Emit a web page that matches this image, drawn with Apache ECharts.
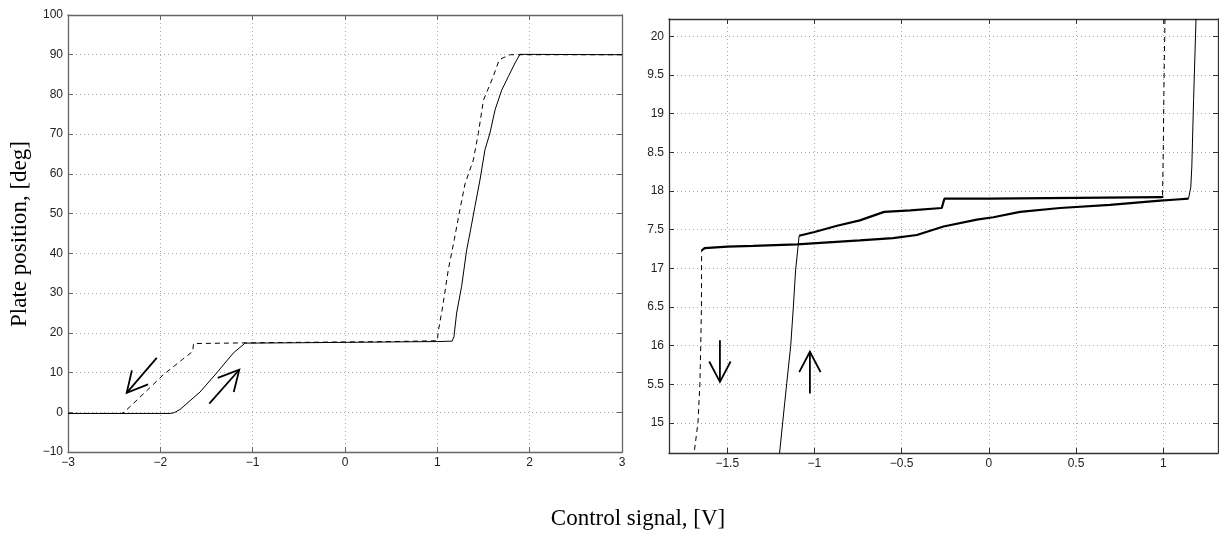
<!DOCTYPE html>
<html>
<head>
<meta charset="utf-8">
<title>Plate position vs control signal</title>
<script src="https://cdn.jsdelivr.net/npm/echarts@6/dist/echarts.min.js"></script>
<style>
html,body{margin:0;padding:0;background:#fff;}
#main{width:1219px;height:535px;}
</style>
</head>
<body>
<div id="main"></div>
<script>
// ---- left panel: full range ----
var leftXTicks = [-3, -2, -1, 0, 1, 2, 3];
var leftYTicks = [-10, 0, 10, 20, 30, 40, 50, 60, 70, 80, 90, 100];
// solid: signal going up
var leftUp = [[-3, -0.3], [-1.895, -0.3], [-1.85, -0.1], [-1.787, 0.7], [-1.57, 5.1], [-1.39, 9.9], [-1.21, 14.9],
  [-1.083, 17.4], [-0.5, 17.5], [0, 17.6], [0.5, 17.7], [1.0, 17.8], [1.16, 17.9], [1.18, 19], [1.209, 25],
  [1.263, 31.7], [1.318, 40.9], [1.36, 45.9], [1.407, 51.8], [1.462, 58.5], [1.516, 66.1], [1.57, 70.3],
  [1.625, 76.1], [1.697, 81.1], [1.769, 84.5], [1.841, 87.9], [1.895, 90.1], [3, 90]];
// dashed: signal going down
var leftDown = [[3, 90], [1.79, 90], [1.72, 89.3], [1.67, 88.7], [1.6, 84.2], [1.545, 81.1], [1.5, 78.6],
  [1.444, 70.2], [1.39, 63.5], [1.3, 57.5], [1.237, 50.1], [1.183, 43.4], [1.119, 35.9], [1.058, 26.6],
  [1.01, 20.4], [1.0, 18.0], [0.5, 17.8], [0, 17.7], [-0.5, 17.6], [-1, 17.5], [-1.3, 17.4], [-1.64, 17.3],
  [-1.65, 15.3], [-1.76, 13.3], [-1.97, 9.4], [-2.18, 4.7], [-2.393, 0], [-2.42, -0.3], [-3, -0.3]];
// arrows: [x0, y0, x1(tip), y1(tip)]
var leftArrows = [[-2.039, 13.7, -2.364, 4.9], [-1.47, 2.2, -1.145, 10.7]];

// ---- right panel: zoom on the plateau ----
var rightXTicks = [-1.5, -1, -0.5, 0, 0.5, 1];
var rightYTicks = [15, 15.5, 16, 16.5, 17, 17.5, 18, 18.5, 19, 19.5, 20];
var rightYTickLabels = ['15', '5.5', '16', '6.5', '17', '7.5', '18', '8.5', '19', '9.5', '20'];
// thin solid rise on the left and on the right
var rightRiseLeft = [[-1.2, 14.61], [-1.159, 15.51], [-1.136, 16.0], [-1.121, 16.5], [-1.108, 16.98], [-1.093, 17.30], [-1.088, 17.42]];
var rightRiseRight = [[1.145, 17.9], [1.158, 18.05], [1.164, 18.32], [1.174, 19.18], [1.188, 20.225]];
// dashed drops
var rightDropLeft = [[-1.63, 17.25], [-1.647, 17.23], [-1.648, 16.5], [-1.652, 16.0], [-1.657, 15.5], [-1.668, 15.0], [-1.69, 14.61]];
var rightDropRight = [[1.01, 20.225], [1.005, 19.5], [1.0, 18.5], [0.996, 17.93]];
// thick plateau lines
var rightUpper = [[-1.088, 17.42], [-1.0, 17.47], [-0.87, 17.55], [-0.74, 17.62], [-0.6, 17.73], [-0.45, 17.75],
  [-0.27, 17.78], [-0.255, 17.9], [0.0, 17.9], [0.5, 17.91], [0.99, 17.92], [1.0, 17.93]];
var rightLower = [[-1.647, 17.23], [-1.63, 17.26], [-1.5, 17.28], [-1.351, 17.29], [-1.1, 17.31], [-0.74, 17.36],
  [-0.55, 17.39], [-0.413, 17.43], [-0.26, 17.54], [-0.069, 17.63], [0.026, 17.66], [0.179, 17.73], [0.408, 17.78],
  [0.695, 17.82], [0.982, 17.875], [1.078, 17.89], [1.145, 17.9]];
var rightArrows = [[-1.542, 16.07, -1.542, 15.53], [-1.026, 15.38, -1.026, 15.92]];

var chart = echarts.init(document.getElementById('main'));

var labelFont = {fontFamily: 'Liberation Sans', fontSize: 12, color: '#222'};

function minusFmt(v) {
  return String(v).replace('-', '\u2212');
}

function rightYFmt(v) {
  for (var i = 0; i < rightYTicks.length; i++) {
    if (Math.abs(rightYTicks[i] - v) < 1e-6) return rightYTickLabels[i];
  }
  return '';
}

/**
 * one value axis with MATLAB-like box look
 * main=true -> labels + dotted grid, false -> mirror axis (ticks only)
 */
function makeAxis(gridIndex, pos, min, max, ticks, lineColor, main, fmt) {
  return {
    type: 'value', gridIndex: gridIndex, position: pos, min: min, max: max,
    axisLine: {show: true, onZero: false, lineStyle: {color: lineColor, width: 1.3}},
    axisTick: {show: true, inside: true, length: 5, customValues: ticks, lineStyle: {color: lineColor}},
    axisLabel: {show: main, customValues: ticks, margin: 5, formatter: fmt,
      fontFamily: labelFont.fontFamily, fontSize: labelFont.fontSize, color: labelFont.color},
    splitLine: {show: main, lineStyle: {color: '#aaa', width: 1, type: [1, 3]}},
    minorTick: {show: false}
  };
}

function arrowRender(params, api) {
  var p0 = api.coord([api.value(0), api.value(1)]);
  var p1 = api.coord([api.value(2), api.value(3)]);
  var ang = Math.atan2(p1[1] - p0[1], p1[0] - p0[0]);
  var L = 23, a = Math.PI / 6.5;
  var h1 = [p1[0] - L * Math.cos(ang - a), p1[1] - L * Math.sin(ang - a)];
  var h2 = [p1[0] - L * Math.cos(ang + a), p1[1] - L * Math.sin(ang + a)];
  var st = {stroke: '#000', lineWidth: 1.8, fill: null};
  return {
    type: 'group',
    children: [
      {type: 'polyline', shape: {points: [p0, p1]}, style: st},
      {type: 'polyline', shape: {points: [h1, p1, h2]}, style: st}
    ]
  };
}

function lineSeries(data, xi, yi, dashed, width) {
  return {
    type: 'line', xAxisIndex: xi, yAxisIndex: yi, data: data,
    showSymbol: false, symbol: 'none', smooth: false, clip: true,
    lineStyle: {color: '#000', width: width, type: dashed ? [5, 4] : 'solid'}
  };
}

var option = {
  animation: false,
  backgroundColor: '#fff',
  grid: [
    {left: 68, top: 15, width: 554, height: 437},
    {left: 669, top: 19, width: 549, height: 434}
  ],
  xAxis: [
    makeAxis(0, 'bottom', -3, 3, leftXTicks, '#666', true, minusFmt),
    makeAxis(0, 'top', -3, 3, leftXTicks, '#666', false),
    makeAxis(1, 'bottom', -1.834, 1.314, rightXTicks, '#333', true, minusFmt),
    makeAxis(1, 'top', -1.834, 1.314, rightXTicks, '#333', false)
  ],
  yAxis: [
    makeAxis(0, 'left', -10, 100, leftYTicks, '#666', true, minusFmt),
    makeAxis(0, 'right', -10, 100, leftYTicks, '#666', false),
    makeAxis(1, 'left', 14.61, 20.225, rightYTicks, '#333', true, rightYFmt),
    makeAxis(1, 'right', 14.61, 20.225, rightYTicks, '#333', false)
  ],
  graphic: [
    {type: 'text', x: 20, y: 234, rotation: Math.PI / 2,
      style: {text: 'Plate position, [deg]', font: '23px "Liberation Serif"', fill: '#000', align: 'center', verticalAlign: 'middle'}},
    {type: 'text', x: 638, y: 519,
      style: {text: 'Control signal, [V]', font: '23px "Liberation Serif"', fill: '#000', align: 'center', verticalAlign: 'middle'}}
  ],
  series: [
    lineSeries(leftUp, 0, 0, false, 1),
    lineSeries(leftDown, 0, 0, true, 1),
    {type: 'custom', xAxisIndex: 0, yAxisIndex: 0, data: leftArrows, renderItem: arrowRender, encode: {x: [0, 2], y: [1, 3]}},
    lineSeries(rightRiseLeft, 2, 2, false, 1),
    lineSeries(rightRiseRight, 2, 2, false, 1),
    lineSeries(rightDropLeft, 2, 2, true, 1),
    lineSeries(rightDropRight, 2, 2, true, 1),
    lineSeries(rightUpper, 2, 2, false, 2.2),
    lineSeries(rightLower, 2, 2, false, 2.2),
    {type: 'custom', xAxisIndex: 2, yAxisIndex: 2, data: rightArrows, renderItem: arrowRender, encode: {x: [0, 2], y: [1, 3]}}
  ]
};
chart.setOption(option);
window.onresize = chart.resize;
</script>
</body>
</html>
